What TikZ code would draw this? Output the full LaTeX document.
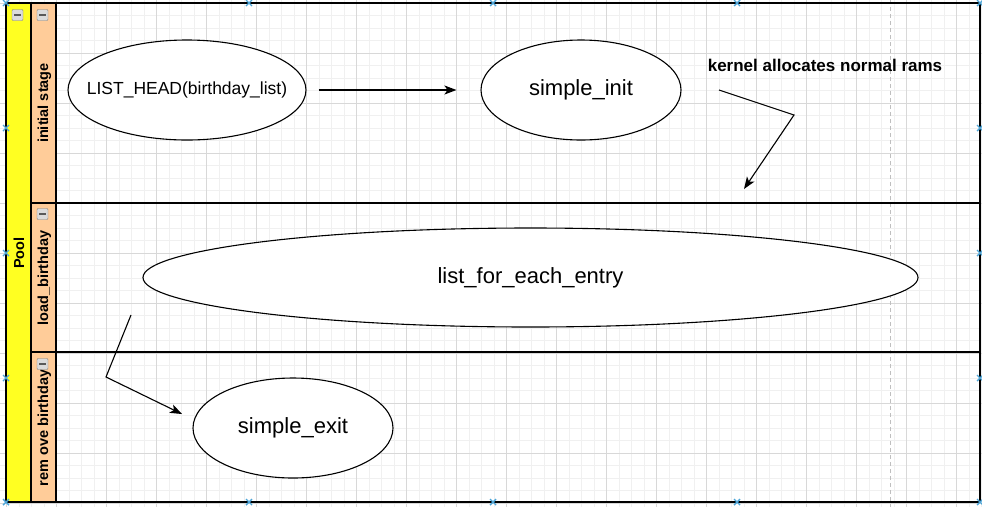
\documentclass[tikz,border=0pt]{standalone}
\usepackage{fontspec}
\setmainfont{Liberation Sans}
\usetikzlibrary{shapes.geometric,arrows.meta}
\definecolor{poolyellow}{HTML}{FFFF22}
\definecolor{lanepeach}{HTML}{FFCC99}
\definecolor{gridminor}{HTML}{F0F0F0}
\definecolor{gridmajor}{HTML}{D8D8D8}
\definecolor{handlecol}{HTML}{4DA6D9}
\begin{document}
\begin{tikzpicture}[x=1pt,y=-1pt,
  ell/.style={draw, ellipse, fill=white, line width=1.1pt, inner sep=0pt},
  elltext/.style={font=\fontsize{22}{26}\selectfont, inner sep=0pt},
  arr/.style={line width=1.1pt, -{Stealth[length=12pt,width=9pt,inset=3pt]}},
  hdr/.style={rotate=90, font=\bfseries\fontsize{14.5}{17}\selectfont, inner sep=0pt},
  lanebox/.style={line width=1.5pt},
  collapse/.style={draw=gray, fill=gray!28, minimum size=11pt, inner sep=0pt, rounded corners=1pt,
    path picture={\draw[line width=1.8pt, black!65] ([xshift=-3.2pt]path picture bounding box.center) -- ([xshift=3.2pt]path picture bounding box.center);}},
  handlemark/.style={draw=handlecol, line width=1.4pt}
]
\useasboundingbox (0,0) rectangle (982,507);
\fill[white] (0,0) rectangle (982,507);
% grid
\foreach \i in {0,...,78} \draw[gridminor, line width=0.8pt] ({6.5+12.5*\i},0) -- ({6.5+12.5*\i},507);
\foreach \j in {0,...,40} \draw[gridminor, line width=0.8pt] (0,{3+12.5*\j}) -- (982,{3+12.5*\j});
\foreach \i in {0,...,19} \draw[gridmajor, line width=0.8pt] ({6.5+50*\i},0) -- ({6.5+50*\i},507);
\foreach \j in {0,...,10} \draw[gridmajor, line width=0.8pt] (0,{3+50*\j}) -- (982,{3+50*\j});
% page break line
\draw[black!25, line width=1pt, dash pattern=on 4pt off 3pt] (890,0) -- (890,507);
% pool headers
\fill[poolyellow] (6,3) rectangle (31,502);
\fill[lanepeach] (31,3) rectangle (56,502);
\draw[line width=1.1pt] (31,3) -- (31,502);
\draw[line width=1.1pt] (56,3) -- (56,502);
\draw[lanebox] (31,203) -- (980,203);
\draw[lanebox] (31,352) -- (980,352);
\draw[lanebox] (6,3) rectangle (980,502);
% header texts
\node[hdr] (pool) at (19,253) {Pool};
\node[hdr] (lane1) at (44.5,103) {initial stage};
\node[hdr] (lane2) at (44.5,278) {load\_birthday};
\node[hdr] (lane3) at (44.5,428) {rem ove birthday};
% collapse icons
\node[collapse] (c0) at (17.5,15) {};
\node[collapse] (c1) at (42.5,15) {};
\node[collapse] (c2) at (42.5,214) {};
\node[collapse] (c3) at (42.5,364) {};
% handles
\foreach \hx/\hy in {6/3,6/128,6/253,6/378,6/502,249/3,493/3,737/3,980/3,249/502,493/502,737/502,980/502,980/128,980/253,980/378}
  \draw[handlemark] (\hx-3,\hy-3) -- (\hx+3,\hy+3) (\hx-3,\hy+3) -- (\hx+3,\hy-3);
% ellipses
\node[ell, minimum width=238pt, minimum height=100pt] (lh) at (187,90) {};
\node[elltext, font=\fontsize{17.5}{21}\selectfont] (lht) at (lh.center) {LIST\_HEAD(birthday\_list)};
\node[ell, minimum width=200pt, minimum height=100pt] (si) at (581,90) {};
\node[elltext] (sit) at (si.center) {simple\_init};
\node[ell, minimum width=775pt, minimum height=99pt] (le) at (530.5,277.5) {};
\node[elltext] (let) at (le.center) {list\_for\_each\_entry};
\node[ell, minimum width=200pt, minimum height=100pt] (se) at (293,428) {};
\node[elltext] (set) at (se.center) {simple\_exit};
\node[font=\bfseries\fontsize{17}{20}\selectfont, inner sep=0pt] (kern) at (825,65) {kernel allocates normal rams};
% connectors
\draw[arr, shorten <=12pt, shorten >=24pt] (lh) -- (si);
\coordinate (k1) at (719,90);
\coordinate (k2) at (794,115);
\coordinate (k3) at (744,189);
\draw[arr] (k1) -- (k2) -- (k3);
\coordinate (e1) at (131,315);
\coordinate (e2) at (106,377);
\coordinate (e3) at (182,414);
\draw[arr] (e1) -- (e2) -- (e3);
\end{tikzpicture}
\end{document}
